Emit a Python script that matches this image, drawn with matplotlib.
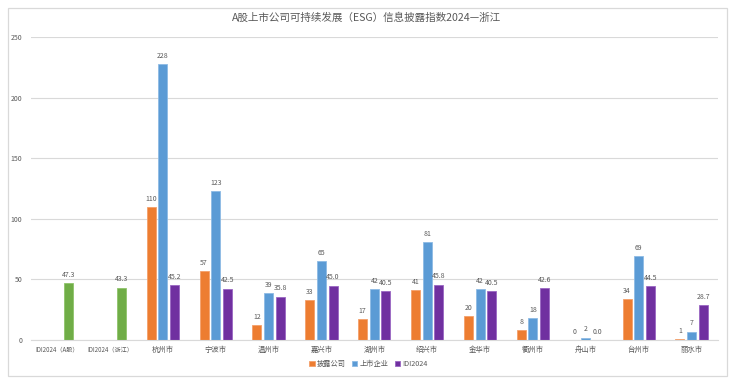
import matplotlib
matplotlib.use("Agg")
import matplotlib.pyplot as plt
from matplotlib.patches import Rectangle
import numpy as np

plt.rcParams['font.family'] = ['Noto Sans CJK SC', 'DejaVu Sans']

# datos
categorias = ['IDI2024（A股）', 'IDI2024（浙江）', '杭州市', '宁波市', '温州市', '嘉兴市',
              '湖州市', '绍兴市', '金华市', '衢州市', '舟山市', '台州市', '丽水市']
idi_ref = [47.3, 43.3]
pilu = [110, 57, 12, 33, 17, 41, 20, 8, 0, 34, 1]
shangshi = [228, 123, 39, 65, 42, 81, 42, 18, 2, 69, 7]
idi2024 = [45.2, 42.5, 35.8, 45.0, 40.5, 45.8, 40.5, 42.6, 0.0, 44.5, 28.7]
yticks = [0, 50, 100, 150, 200, 250]

c_nar = '#ED7D31'
c_azul = '#5B9BD5'
c_mor = '#7030A0'
c_ver = '#70AD47'
gris = '#595959'

W, H = 737, 384
fig = plt.figure(figsize=(W / 100, H / 100), dpi=100)

# marco del grafico
fig.patches.append(Rectangle((8 / W, 8 / H), 719 / W, 368 / H, transform=fig.transFigure,
                             fill=False, edgecolor='#D9D9D9', linewidth=0.9))

ax = fig.add_axes([30.7 / W, 44 / H, (718 - 30.7) / W, (340 - 37.3) / H])

x = np.arange(len(categorias))
xc = x[2:]
d, w = 0.22, 0.17

b0 = ax.bar(x[:2] + d, idi_ref, w, color=c_ver, edgecolor='#8FC46A', linewidth=0.6)
b1 = ax.bar(xc - d, pilu, w, color=c_nar, edgecolor='#F4A06A', linewidth=0.6, label='披露公司')
b2 = ax.bar(xc, shangshi, w, color=c_azul, edgecolor='#8DBBE5', linewidth=0.6, label='上市企业')
b3 = ax.bar(xc + d, idi2024, w, color=c_mor, edgecolor='#9A66C2', linewidth=0.6, label='IDI2024')

for b, f in [(b0, '%.1f'), (b1, '%d'), (b2, '%d'), (b3, '%.1f')]:
    ax.bar_label(b, fmt=f, padding=3, fontsize=5, color=gris)

ax.set_xlim(-0.5, len(categorias) - 0.5)
ax.set_ylim(0, 250)
ax.set_yticks(yticks)
ax.set_xticks(x)
ax.set_xticklabels(categorias)
ax.tick_params(axis='both', length=0, colors=gris)
ax.tick_params(axis='y', labelsize=5, pad=6)
ax.tick_params(axis='x', labelsize=5.3, pad=4)
for t in ax.get_xticklabels()[:2]:
    t.set_fontsize(4.4)
ax.grid(axis='y', color='#D9D9D9', linewidth=0.8)
ax.set_axisbelow(True)
for sp in ['top', 'right', 'left']:
    ax.spines[sp].set_visible(False)
ax.spines['bottom'].set_color('#D9D9D9')
ax.spines['bottom'].set_linewidth(0.8)

fig.text(0.497, 1 - 18 / H, 'A股上市公司可持续发展（ESG）信息披露指数2024—浙江',
         ha='center', va='center', fontsize=7.6, color=gris)

fig.legend(handles=[b1, b2, b3], loc='center', bbox_to_anchor=(0.5, 1 - 364 / H), ncol=3,
           frameon=False, fontsize=5.2, labelcolor=gris, handlelength=0.7, handleheight=0.7,
           handletextpad=0.3, columnspacing=0.9)

fig.savefig('out.png', dpi=100)
